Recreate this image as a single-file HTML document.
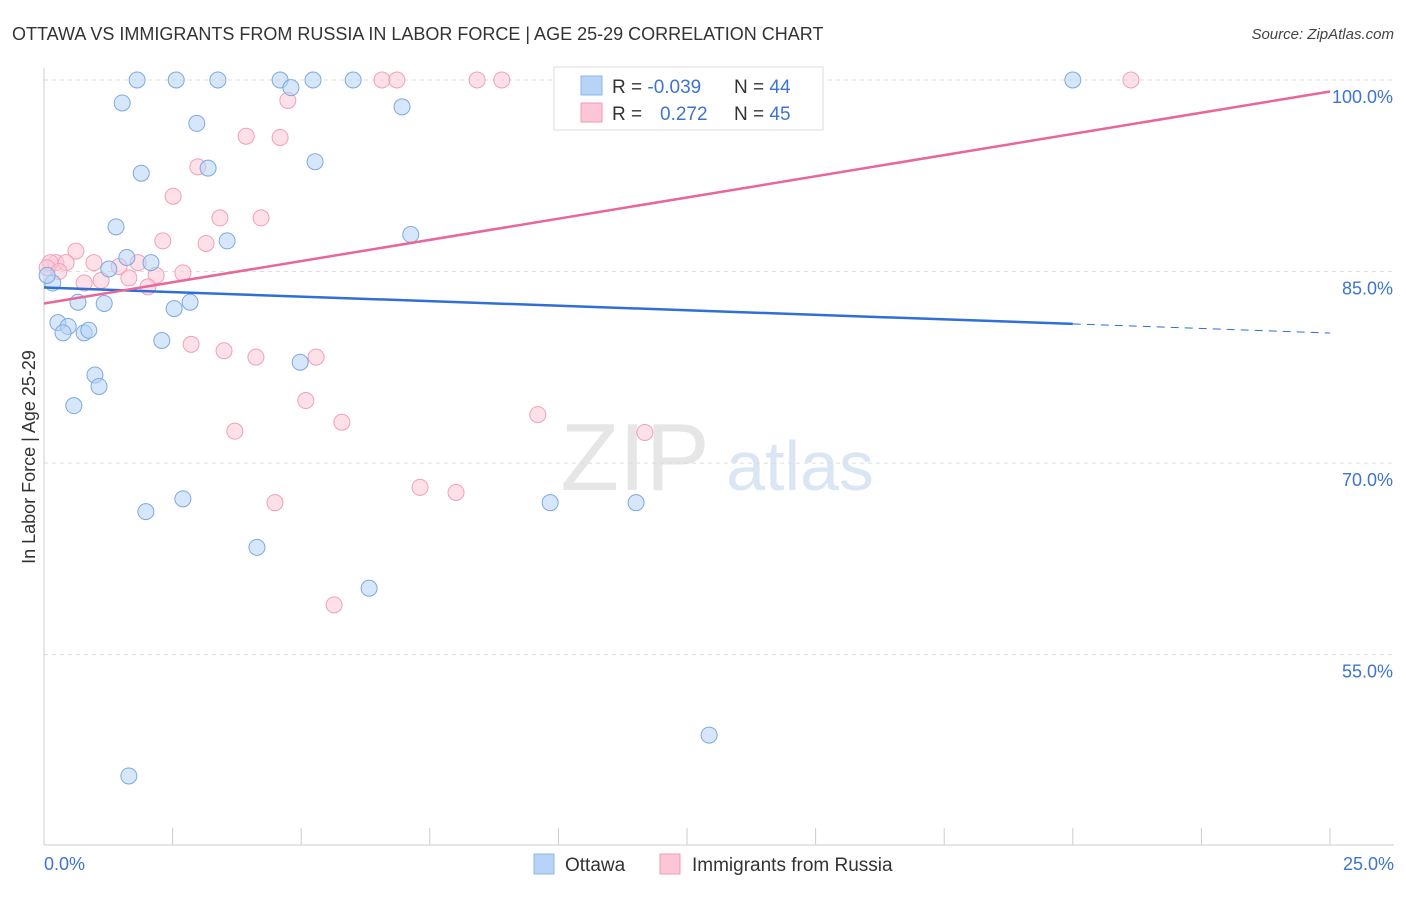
<!DOCTYPE html>
<html><head><meta charset="utf-8"><style>
body{margin:0;background:#fff;font-family:"Liberation Sans",sans-serif}
svg text{font-family:"Liberation Sans",sans-serif}
</style></head><body>
<svg id="chart" width="1406" height="892" xmlns="http://www.w3.org/2000/svg">
<text x="12" y="40" font-size="18" fill="#333">OTTAWA VS IMMIGRANTS FROM RUSSIA IN LABOR FORCE | AGE 25-29 CORRELATION CHART</text>
<text x="1394" y="39" font-size="15" fill="#444" font-style="italic" text-anchor="end">Source: ZipAtlas.com</text>
<text x="35" y="457" font-size="18" fill="#333" text-anchor="middle" transform="rotate(-90 35 457)">In Labor Force | Age 25-29</text>
<g><text x="635" y="490" font-size="96" fill="#e6e6e6" text-anchor="middle" font-family="Liberation Serif">ZIP</text><text x="800" y="490" font-size="70" fill="#dbe6f5" text-anchor="middle">atlas</text></g>
<g id="grid"></g><g id="axes"></g><g id="pts"></g><g id="trend"></g>
<g>
<rect x="554" y="67" width="269" height="63" fill="#fff" stroke="#ddd"/>
<rect x="581" y="76" width="21" height="19" fill="#b7d3f5" stroke="#8fb6e8"/>
<rect x="581" y="103" width="21" height="19" fill="#fcc6d6" stroke="#f09ab5"/>
<text x="612" y="93" font-size="19" fill="#333">R = <tspan fill="#3d74d0">-0.039</tspan><tspan x="734">N = </tspan><tspan fill="#3d74d0">44</tspan></text>
<text x="612" y="120" font-size="19" fill="#333">R = <tspan x="660" fill="#3d74d0">0.272</tspan><tspan x="734">N = </tspan><tspan fill="#3d74d0">45</tspan></text>
</g>
<g>
<rect x="534" y="854" width="20" height="20" fill="#b7d3f5" stroke="#8fb6e8"/>
<text x="565" y="871" font-size="19" fill="#333">Ottawa</text>
<rect x="660" y="854" width="20" height="20" fill="#fcc6d6" stroke="#f09ab5"/>
<text x="692" y="871" font-size="19" fill="#333">Immigrants from Russia</text>
</g>
</svg>
<script>
const yTicks=[100,85,70,55];
const yTickLabels=["100.0%","85.0%","70.0%","55.0%"];
const xLabels=["0.0%","25.0%"];
const blueX=[1.81,2.57,3.38,4.59,5.23,6.01,20.0,1.52,6.96,4.80,2.97,1.89,3.19,5.27,1.40,3.56,7.13,1.61,2.08,1.26,0.17,0.66,1.17,2.53,2.84,0.27,0.47,0.37,0.78,0.87,2.29,4.98,0.99,1.07,0.58,2.70,1.98,9.84,11.51,4.14,6.32,12.93,1.65,0.06];
const blueY=[100,100,100,100,100,100,100,98.2,97.9,99.4,96.6,92.7,93.1,93.6,88.5,87.4,87.9,86.1,85.7,85.2,84.1,82.6,82.5,82.1,82.6,81.0,80.7,80.2,80.2,80.4,79.6,77.9,76.9,76.0,74.5,67.2,66.2,66.9,66.9,63.4,60.2,48.7,45.5,84.7];
const pinkX=[6.57,6.86,8.42,8.90,10.15,21.13,12.48,12.60,4.74,3.93,4.59,2.99,2.51,3.42,4.22,2.31,3.15,0.62,0.23,0.43,0.97,1.83,0.12,1.46,2.18,2.70,1.11,0.78,1.65,2.02,0.06,0.29,2.86,3.50,4.12,5.29,5.09,5.79,3.71,9.60,11.68,4.49,7.31,8.01,5.64];
const pinkY=[100,100,100,100,100,100,100,100,98.4,95.6,95.5,93.2,90.9,89.2,89.2,87.4,87.2,86.6,85.7,85.7,85.7,85.7,85.7,85.4,84.7,84.9,84.3,84.1,84.5,83.8,85.3,85.0,79.3,78.8,78.3,78.3,74.9,73.2,72.5,73.8,72.4,66.9,68.1,67.7,58.9];
const blueTrend=[83.75,-0.1425]; // intercept, slope
const pinkTrend=[82.5,0.664];
const X=v=>44+v*51.44, Y=v=>80+(100-v)*12.77;
const NS="http://www.w3.org/2000/svg";
function mk(p,t,a){const e=document.createElementNS(NS,t);for(const k in a)e.setAttribute(k,a[k]);document.getElementById(p).appendChild(e);return e;}
yTicks.forEach((t,i)=>{
 const l=mk('grid','line',{x1:44,x2:1394,y1:Y(t),y2:Y(t),stroke:'#ddd','stroke-dasharray':'4,4'});
 
 
 const tx=mk('grid','text',{x:1393,y:Y(t)+23,'font-size':18,fill:'#3d74d0','text-anchor':'end'});tx.textContent=yTickLabels[i];
 
 
});
let a=mk('axes','line',{x1:44,x2:44,y1:68,y2:845,stroke:'#ccc'});


a=mk('axes','line',{x1:44,x2:1394,y1:845,y2:845,stroke:'#ccc'});


for(let i=0;i<=10;i++){const t=mk('axes','line',{x1:X(i*2.5),x2:X(i*2.5),y1:828,y2:845,stroke:'#ccc'});
 
 }
[[0,'start',44],[25,'end',1394]].forEach((d,i)=>{const t=mk('axes','text',{x:d[2],y:870,'font-size':18,fill:'#3d74d0','text-anchor':d[1]});t.textContent=xLabels[i];
 
 });
function pts(xs,ys,f,s,n){xs.forEach((x,i)=>{const c=mk('pts','circle',{cx:X(x),cy:Y(ys[i]),r:8,fill:f,'fill-opacity':0.55,stroke:s,'stroke-width':1});
 
 });}
pts(pinkX,pinkY,'#fcc6d6','#f0a0b8','russia-point');
pts(blueX,blueY,'#b7d3f5','#7ea8e0','ottawa-point');
let l=mk('trend','line',{x1:X(0),y1:Y(blueTrend[0]),x2:X(20),y2:Y(blueTrend[0]+blueTrend[1]*20),stroke:'#2f6fd6','stroke-width':2.5});


l=mk('trend','line',{x1:X(20),y1:Y(blueTrend[0]+blueTrend[1]*20),x2:X(25),y2:Y(blueTrend[0]+blueTrend[1]*25),stroke:'#2f6fd6','stroke-width':1,'stroke-dasharray':'8,6'});


l=mk('trend','line',{x1:X(0),y1:Y(pinkTrend[0]),x2:X(25),y2:Y(pinkTrend[0]+pinkTrend[1]*25),stroke:'#e8669a','stroke-width':2.5});


</script>
</body></html>
